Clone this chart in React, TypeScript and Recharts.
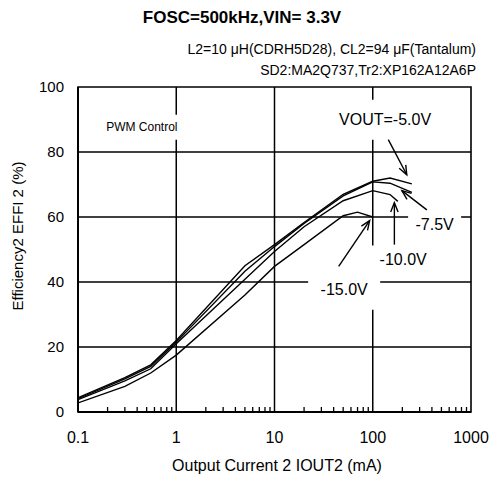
import {
  CartesianGrid,
  Line,
  LineChart,
  ReferenceArea,
  ReferenceLine,
  XAxis,
  YAxis,
} from 'recharts';

const FONT = '"Liberation Sans", Arial, sans-serif';

// output current (mA) / efficiency (%) per VOUT curve
const current5 = [0.1, 0.3, 0.55, 1, 5, 10, 20, 50, 100, 150, 250];
const eff5 = [4.4, 10.6, 14.5, 22, 45, 51.5, 58.3, 67, 71, 72, 70.2];

const current75 = [0.1, 0.3, 0.55, 1, 5, 10, 20, 50, 100, 150, 250];
const eff75 = [4.1, 10.2, 14, 21.5, 43.3, 50.9, 58, 66.5, 70.8, 70.4, 67.6];

const current10 = [0.1, 0.3, 0.55, 1, 10, 20, 50, 100, 150, 180];
const eff10 = [3.8, 9.6, 13.3, 21, 49.4, 57, 65, 68.1, 66.9, 64.8];

const current15 = [0.1, 0.3, 0.55, 1, 5, 10, 20, 50, 70, 100];
const eff15 = [2.8, 7.9, 12, 17.5, 36, 44.8, 51.5, 60.4, 61.5, 60];

const xTicks = [0.1, 1, 10, 100, 1000];
const xMinorTicks = [
  0.2, 0.3, 0.4, 0.5, 0.6, 0.7, 0.8, 0.9,
  2, 3, 4, 5, 6, 7, 8, 9,
  20, 30, 40, 50, 60, 70, 80, 90,
  200, 300, 400, 500, 600, 700, 800, 900,
];
const yTicks = [0, 20, 40, 60, 80, 100];

// annotation boxes: [x1, x2, y1, y2] in mA / %, with their text
const labelBoxes = [
  { text: 'PWM Control', size: 12, x1: 0.169, x2: 1.18, y1: 83.8, y2: 91.5 },
  { text: 'VOUT=-5.0V', size: 16, x1: 41.4, x2: 431, y1: 83.8, y2: 96.1 },
  { text: '-7.5V', size: 16, x1: 229, x2: 793, y1: 53, y2: 62.2 },
  { text: '-10.0V', size: 16, x1: 94, x2: 442, y1: 42.6, y2: 51.2 },
  { text: '-15.0V', size: 16, x1: 22, x2: 119, y1: 31.5, y2: 43.8 },
];

// arrows: from (x, y) to (x, y), mA / %
const arrows = [
  { x1: 144, y1: 83.8, x2: 222, y2: 73 },
  { x1: 355, y1: 62.2, x2: 198, y2: 68.1 },
  { x1: 166, y1: 51.5, x2: 166, y2: 64.4 },
  { x1: 45, y1: 44.8, x2: 93, y2: 58.9 },
];

const toPoints = (xs: number[], ys: number[]) => xs.map((x, i) => ({ x, y: ys[i] }));

const series = [
  toPoints(current5, eff5),
  toPoints(current75, eff75),
  toPoints(current10, eff10),
  toPoints(current15, eff15),
];

function XTick(props: any) {
  const { x, y, payload } = props;
  const v = payload.value;
  if (xTicks.includes(v)) {
    return (
      <text x={x} y={y + 31} textAnchor="middle" fontSize={16} fontFamily={FONT} fill="#000">
        {String(v)}
      </text>
    );
  }
  return <line x1={x} y1={y} x2={x} y2={y - 5} stroke="#000" strokeWidth={1.3} />;
}

function Arrow(props: any) {
  const { x1, y1, x2, y2 } = props;
  const a = Math.atan2(y2 - y1, x2 - x1);
  const h = 10;
  const s = 0.38;
  const p1 = `${x2 - h * Math.cos(a - s)},${y2 - h * Math.sin(a - s)}`;
  const p2 = `${x2 - h * Math.cos(a + s)},${y2 - h * Math.sin(a + s)}`;
  return (
    <g>
      <line x1={x1} y1={y1} x2={x2} y2={y2} stroke="#000" strokeWidth={1.4} />
      <polyline points={`${p1} ${x2},${y2} ${p2}`} fill="none" stroke="#000" strokeWidth={1.4} />
    </g>
  );
}

const textStyle = { position: 'absolute' as const, fontFamily: FONT, color: '#000', whiteSpace: 'nowrap' as const, lineHeight: 1 };

export default function App() {
  return (
    <div style={{ position: 'absolute', left: 0, top: 0, width: 492, height: 479, background: '#fff' }}>
      <LineChart width={492} height={479} margin={{ top: 87, right: 21, bottom: 0, left: 0 }}>
        <CartesianGrid
          stroke="#000"
          strokeWidth={1.5}
          verticalValues={[1, 10, 100]}
          horizontalValues={[20, 40, 60, 80]}
        />
        <XAxis
          dataKey="x"
          type="number"
          scale="log"
          domain={[0.1, 1000]}
          allowDataOverflow
          ticks={[...xTicks, ...xMinorTicks].sort((a, b) => a - b)}
          interval={0}
          tick={XTick}
          tickLine={false}
          tickSize={0}
          tickMargin={0}
          axisLine={{ stroke: '#000', strokeWidth: 2 }}
          height={67}
        />
        <YAxis
          type="number"
          domain={[0, 100]}
          ticks={yTicks}
          interval={0}
          tickLine={false}
          tickSize={0}
          tickMargin={14}
          axisLine={{ stroke: '#000', strokeWidth: 2 }}
          tick={{ fontSize: 15, fill: '#000', fontFamily: FONT }}
          width={78}
        />
        <ReferenceArea x1={0.1} x2={1000} y1={0} y2={100} fill="none" stroke="#000" strokeWidth={1.6} />
        {labelBoxes.map((b) => (
          <ReferenceArea
            key={b.text}
            x1={b.x1}
            x2={b.x2}
            y1={b.y1}
            y2={b.y2}
            fill="#fff"
            fillOpacity={1}
            stroke="none"
            label={{ value: b.text, position: 'center', fontSize: b.size, fill: '#000', fontFamily: FONT }}
          />
        ))}
        {series.map((d, i) => (
          <Line
            key={i}
            data={d}
            dataKey="y"
            type="linear"
            stroke="#000"
            strokeWidth={1.4}
            dot={false}
            isAnimationActive={false}
          />
        ))}
        {arrows.map((a, i) => (
          <ReferenceLine
            key={i}
            segment={[{ x: a.x1, y: a.y1 }, { x: a.x2, y: a.y2 }]}
            shape={Arrow}
          />
        ))}
      </LineChart>
      <div style={{ ...textStyle, left: 242, top: 9, fontSize: 17, fontWeight: 'bold', transform: 'translateX(-50%)' }}>
        FOSC=500kHz,VIN= 3.3V
      </div>
      <div style={{ ...textStyle, right: 16, top: 42, fontSize: 14 }}>
        L2=10 μH(CDRH5D28), CL2=94 μF(Tantalum)
      </div>
      <div style={{ ...textStyle, right: 16, top: 63, fontSize: 14 }}>SD2:MA2Q737,Tr2:XP162A12A6P</div>
      <div style={{ ...textStyle, left: 277, top: 458, fontSize: 16, transform: 'translateX(-50%)' }}>
        Output Current 2 IOUT2 (mA)
      </div>
      <div
        style={{
          ...textStyle,
          left: 17,
          top: 236,
          fontSize: 15,
          transform: 'translate(-50%, -50%) rotate(-90deg)',
        }}
      >
        Efficiency2 EFFI 2 (%)
      </div>
    </div>
  );
}
